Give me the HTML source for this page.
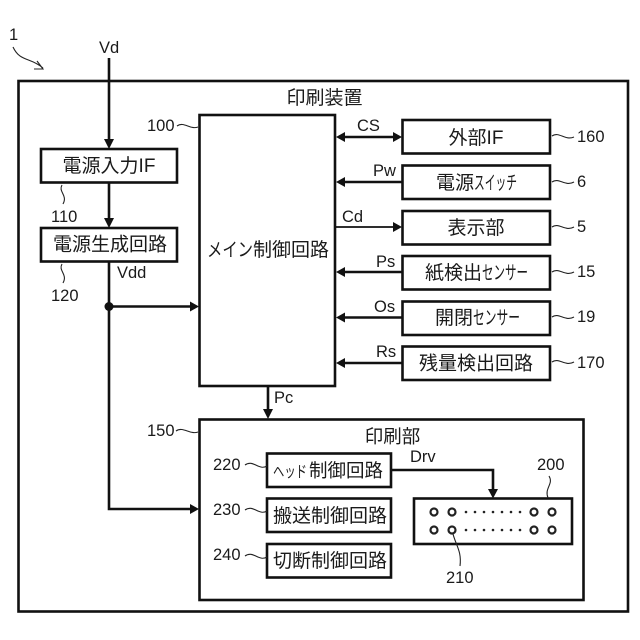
<!DOCTYPE html>
<html>
<head>
<meta charset="utf-8">
<style>
html,body{margin:0;padding:0;background:#fff;width:640px;height:640px;overflow:hidden}
svg{display:block}
text{font-family:"Liberation Sans","Noto Sans CJK JP",sans-serif;font-size:16.5px;fill:#1a1a1a}
.j{font-size:19px}
.c{text-anchor:middle}
.b{fill:#fff;stroke:#111;stroke-width:2.6}
.l{fill:none;stroke:#111;stroke-width:2.6}
.w{fill:none;stroke:#222;stroke-width:1.1}
.a{fill:#111}
.h{fill:#fff;stroke:#222;stroke-width:2.2}
.d{fill:#222}
</style>
</head>
<body>
<svg width="640" height="640" viewBox="0 0 640 640" xmlns="http://www.w3.org/2000/svg">
<rect class="b" x="18.5" y="81" width="609.5" height="530.5"/>
<rect class="b" x="199.5" y="115" width="135.5" height="271"/>
<rect class="b" x="41" y="149" width="136" height="33.5"/>
<rect class="b" x="41" y="228" width="136" height="33.5"/>
<rect class="b" x="402.5" y="120" width="147.5" height="33.5"/>
<rect class="b" x="402.5" y="165.5" width="147.5" height="33.5"/>
<rect class="b" x="402.5" y="211" width="147.5" height="33.5"/>
<rect class="b" x="402.5" y="256" width="147.5" height="33.5"/>
<rect class="b" x="402.5" y="301.5" width="147.5" height="33.5"/>
<rect class="b" x="402.5" y="346.5" width="147.5" height="33.5"/>
<rect class="b" x="199.5" y="419.5" width="384" height="180.5"/>
<rect class="b" x="267" y="453.5" width="124" height="33.5"/>
<rect class="b" x="267" y="498.5" width="124" height="33.5"/>
<rect class="b" x="267" y="544" width="124" height="33.5"/>
<rect class="b" x="414" y="498.5" width="158" height="45.5"/>

<!-- connectors -->
<path class="l" d="M109 58V140M109 182V220M109 261V509H190M109 306.500H190M345 137H393M345 182H402M345 272H402M345 317.500H402M345 363H402M268 386V410M391 470H493V490"/>
<path class="l" d="M335 227H393" style="stroke-width:1.8"/>
<circle class="a" cx="109" cy="306.500" r="4.500"/>
<path class="a" d="M104 139H114L109 149ZM104 218H114L109 228ZM190 301.500L199 306.500L190 311.500ZM190 504L199 509L190 514ZM263 409H273L268 419ZM488 489H498L493 498.500Z"/>
<path class="a" d="M345 132V142L336 137ZM393 132V142L402 137ZM345 177V187L336 182ZM393 222V232L402 227ZM345 267V277L336 272ZM345 312.500V322.500L336 317.500ZM345 358V368L336 363Z"/>

<!-- leaders -->
<path class="w" d="M13 47C20 62 30 57 43 68M37 61L43 69L34 69"/>
<path class="w" d="M177 126C184 121 190 130 198 127"/>
<path class="w" d="M62 185C58 192 68 195 63 204"/>
<path class="w" d="M62 264C58 271 68 274 63 283"/>
<path class="w" d="M552 136C559 131 565 141 574 137"/>
<path class="w" d="M552 182C559 177 565 187 574 182"/>
<path class="w" d="M552 227C559 222 565 232 574 227"/>
<path class="w" d="M552 272C559 267 565 277 574 272"/>
<path class="w" d="M552 317C559 312 565 322 574 317"/>
<path class="w" d="M552 362C559 357 565 367 574 362"/>
<path class="w" d="M176 431C183 426 190 435 198 432"/>
<path class="w" d="M245 465C253 459 259 471 267 466"/>
<path class="w" d="M245 510C253 504 259 516 267 511"/>
<path class="w" d="M245 556C253 550 259 562 267 557"/>
<path class="w" d="M549 476C554 484 544 488 548 498"/>
<path class="w" d="M452 530C455 545 462 550 460 566"/>

<!-- head holes -->
<g>
<circle class="h" cx="434" cy="512" r="3.500"/><circle class="h" cx="452" cy="512" r="3.500"/><circle class="h" cx="534" cy="512" r="3.500"/><circle class="h" cx="552" cy="512" r="3.500"/>
<circle class="h" cx="434" cy="530" r="3.500"/><circle class="h" cx="452" cy="530" r="3.500"/><circle class="h" cx="534" cy="530" r="3.500"/><circle class="h" cx="552" cy="530" r="3.500"/>
<g class="d">
<circle cx="466" cy="512" r="1.300"/><circle cx="475" cy="512" r="1.300"/><circle cx="484" cy="512" r="1.300"/><circle cx="493" cy="512" r="1.300"/><circle cx="502" cy="512" r="1.300"/><circle cx="511" cy="512" r="1.300"/><circle cx="520" cy="512" r="1.300"/>
<circle cx="466" cy="530" r="1.300"/><circle cx="475" cy="530" r="1.300"/><circle cx="484" cy="530" r="1.300"/><circle cx="493" cy="530" r="1.300"/><circle cx="502" cy="530" r="1.300"/><circle cx="511" cy="530" r="1.300"/><circle cx="520" cy="530" r="1.300"/>
</g>
</g>

<!-- labels -->
<text x="9" y="40">1</text>
<text x="99" y="53">Vd</text>
<text x="324.500" y="104" class="c j">印刷装置</text>
<text x="147" y="131">100</text>
<text x="109" y="172" class="c j">電源入力IF</text>
<text x="51" y="222">110</text>
<text x="110" y="250.500" class="c j">電源生成回路</text>
<text x="117" y="278">Vdd</text>
<text x="51" y="301">120</text>
<text x="207" y="256" class="j" textLength="46" lengthAdjust="spacingAndGlyphs">メイン</text>
<text x="253" y="256" class="j">制御回路</text>
<text x="357" y="131">CS</text>
<text x="373" y="176">Pw</text>
<text x="342" y="222">Cd</text>
<text x="376" y="267">Ps</text>
<text x="374" y="312">Os</text>
<text x="376" y="357">Rs</text>
<text x="476" y="144" class="c j">外部IF</text>
<text x="436" y="189" class="j">電源</text>
<text x="474" y="189" class="j" textLength="43" lengthAdjust="spacingAndGlyphs">スイッチ</text>
<text x="476" y="234" class="c j">表示部</text>
<text x="425" y="279" class="j">紙検出</text>
<text x="482" y="279" class="j" textLength="46" lengthAdjust="spacingAndGlyphs">センサー</text>
<text x="435" y="324" class="j">開閉</text>
<text x="473" y="324" class="j" textLength="47" lengthAdjust="spacingAndGlyphs">センサー</text>
<text x="476" y="369.500" class="c j">残量検出回路</text>
<text x="577" y="142">160</text>
<text x="577" y="187">6</text>
<text x="577" y="232">5</text>
<text x="577" y="277">15</text>
<text x="577" y="322">19</text>
<text x="577" y="368">170</text>
<text x="274" y="403">Pc</text>
<text x="147" y="436">150</text>
<text x="392.500" y="443" class="c j" style="font-size:18.500px">印刷部</text>
<text x="410" y="462">Drv</text>
<text x="213" y="470">220</text>
<text x="213" y="515">230</text>
<text x="213" y="560">240</text>
<text x="273" y="477" class="j" textLength="34" lengthAdjust="spacingAndGlyphs" style="font-size:16px">ヘッド</text>
<text x="309" y="477" class="j" style="font-size:18.500px">制御回路</text>
<text x="330" y="522" class="c j">搬送制御回路</text>
<text x="330" y="567" class="c j">切断制御回路</text>
<text x="537" y="470">200</text>
<text x="446" y="583">210</text>
</svg>
</body>
</html>
